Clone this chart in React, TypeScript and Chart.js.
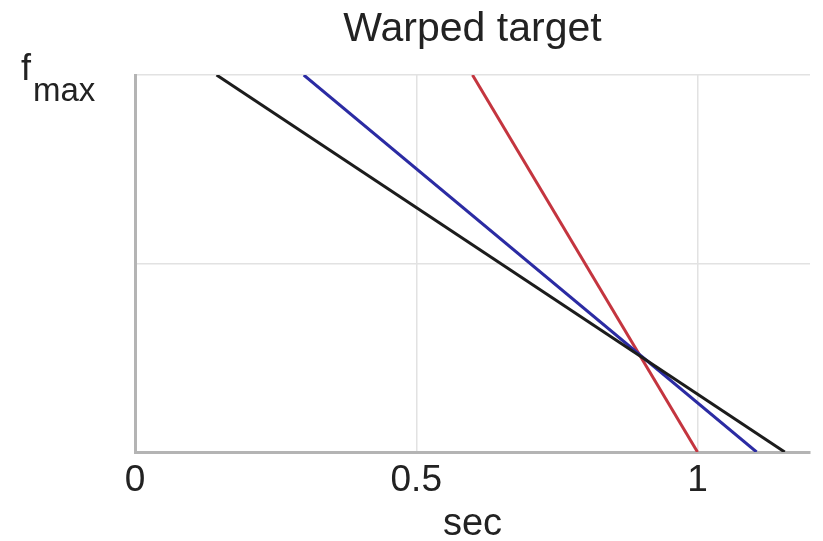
import React, { useEffect, useRef } from "react";
import { Chart, registerables } from "chart.js";

Chart.register(...registerables);

// Normalised frequency at the two ends of each warp line (f_max at the top, 0 at the bottom)
const freqEnds = [1, 0];
// Time (sec) where each line meets f_max and 0
const blackTimes = [0.145, 1.155];
const blueTimes = [0.3, 1.105];
const redTimes = [0.6, 1.0];
// Axis ticks
const xTickValues = [0, 0.5, 1];
const yTickValues = [0, 0.5, 1];

const FONT = "'Liberation Sans', Arial, Helvetica, sans-serif";

const toPoints = (times: number[]) => times.map((t, i) => ({ x: t, y: freqEnds[i] }));

// Draws the "f_max" label beside the top of the frequency axis
const fmaxLabel = {
  id: "fmaxLabel",
  afterDraw(chart: any) {
    const { ctx } = chart;
    ctx.save();
    ctx.fillStyle = "#222";
    ctx.textBaseline = "alphabetic";
    ctx.textAlign = "left";
    ctx.font = `36px ${FONT}`;
    ctx.fillText("f", 21, 80);
    ctx.font = `33px ${FONT}`;
    ctx.fillText("max", 33, 101);
    ctx.restore();
  },
};

export default function App() {
  const canvasRef = useRef<HTMLCanvasElement>(null);

  useEffect(() => {
    const line = (times: number[], color: string) => ({
      data: toPoints(times),
      showLine: true,
      borderColor: color,
      backgroundColor: color,
      borderWidth: 3,
      pointRadius: 0,
      fill: false,
    });

    const chart = new Chart(canvasRef.current!, {
      type: "scatter",
      data: {
        datasets: [
          line(blackTimes, "#1c1c1c"),
          line(blueTimes, "#2b2ba3"),
          line(redTimes, "#c4353f"),
        ],
      },
      options: {
        responsive: false,
        animation: false,
        layout: { padding: { left: 0, right: 13, top: 0, bottom: 0 } },
        plugins: {
          legend: { display: false },
          tooltip: { enabled: false },
          title: {
            display: true,
            text: "Warped target",
            fullSize: false,
            color: "#222",
            font: { family: FONT, size: 41, weight: "normal", lineHeight: 1.0 },
            padding: { top: 9, bottom: 25 },
          },
        },
        scales: {
          x: {
            type: "linear",
            min: 0,
            max: 1.2,
            afterBuildTicks: (scale: any) => {
              scale.ticks = xTickValues.map((v) => ({ value: v }));
            },
            afterFit: (scale: any) => {
              scale.height = 89;
            },
            ticks: {
              color: "#222",
              font: { family: FONT, size: 37 },
              padding: 7,
              maxRotation: 0,
              callback: (v: any) => String(v),
            },
            grid: { color: "#e2e2e2", lineWidth: 1.5, drawTicks: false },
            border: { color: "#b4b4b4", width: 3 },
            title: {
              display: true,
              text: "sec",
              color: "#222",
              font: { family: FONT, size: 38, lineHeight: 0.8 },
              padding: { top: 0, bottom: 1 },
            },
          },
          y: {
            type: "linear",
            min: 0,
            max: 1,
            afterBuildTicks: (scale: any) => {
              scale.ticks = yTickValues.map((v) => ({ value: v }));
            },
            afterFit: (scale: any) => {
              scale.width = 135;
            },
            ticks: { display: false },
            grid: { color: "#e2e2e2", lineWidth: 1.5, drawTicks: false },
            border: { color: "#b4b4b4", width: 3 },
          },
        },
      },
      plugins: [fmaxLabel],
    });

    return () => chart.destroy();
  }, []);

  return (
    <div style={{ position: "fixed", left: 0, top: 0, width: 823, height: 541, background: "#fff" }}>
      <canvas ref={canvasRef} width={823} height={541} />
    </div>
  );
}
